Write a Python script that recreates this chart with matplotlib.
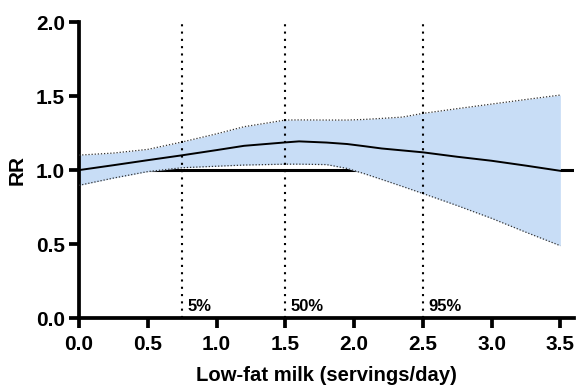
import matplotlib
matplotlib.use("Agg")
from matplotlib import pyplot as plt

plt.rcParams['font.family'] = ['Liberation Sans', 'DejaVu Sans']
plt.rcParams['font.weight'] = 'bold'

# dose-response values
dose = [0.0, 0.25, 0.5, 0.75, 1.0, 1.2, 1.5, 1.6, 1.8, 1.95, 2.07, 2.2, 2.35, 2.5, 2.75, 3.0, 3.25, 3.5]
rr = [1.0, 1.033, 1.067, 1.10, 1.135, 1.164, 1.187, 1.194, 1.186, 1.176, 1.162, 1.146, 1.133, 1.12, 1.09, 1.063, 1.03, 0.995]
rr_upper = [1.101, 1.115, 1.14, 1.19, 1.245, 1.293, 1.338, 1.339, 1.338, 1.338, 1.342, 1.349, 1.358, 1.383, 1.415, 1.446, 1.477, 1.507]
rr_lower = [0.897, 0.946, 0.99, 1.016, 1.026, 1.034, 1.04, 1.04, 1.037, 1.011, 0.977, 0.937, 0.89, 0.842, 0.76, 0.674, 0.58, 0.489]

pct_x = [0.75, 1.5, 2.5]
pct_labels = ['5%', '50%', '95%']

fig = plt.figure(figsize=(5.77, 3.87), dpi=100)
ax = fig.add_axes([0.137, 0.178, 0.858, 0.765])

# reference line RR = 1 (under the band)
ax.plot([0, 3.6], [1, 1], color='black', lw=2.2, zorder=1, solid_capstyle='butt')

ax.fill_between(dose, rr_lower, rr_upper, color='#c8ddf6', lw=0, zorder=2)
ax.plot(dose, rr_upper, color='#333333', lw=0.9, ls=(0, (1, 1.5)), zorder=3)
ax.plot(dose, rr_lower, color='#333333', lw=0.9, ls=(0, (1, 1.5)), zorder=3)
ax.plot(dose, rr, color='black', lw=1.4, zorder=4)

for x, lab in zip(pct_x, pct_labels):
    ax.plot([x, x], [0, 2.0], color='black', lw=1.5, ls=(0, (1, 2.5)), zorder=5)
    ax.text(x + 0.04, 0.05, lab, fontsize=12, fontweight='bold', ha='left', va='baseline')

ax.set_xlim(0, 3.6)
ax.set_ylim(0, 2.0)
ax.set_xticks([0, 0.5, 1.0, 1.5, 2.0, 2.5, 3.0, 3.5])
ax.set_xticklabels(['0.0', '0.5', '1.0', '1.5', '2.0', '2.5', '3.0', '3.5'])
ax.set_yticks([0, 0.5, 1.0, 1.5, 2.0])
ax.set_yticklabels(['0.0', '0.5', '1.0', '1.5', '2.0'])

for s in ['top', 'right']:
    ax.spines[s].set_visible(False)
for s in ['left', 'bottom']:
    ax.spines[s].set_linewidth(2.7)
ax.tick_params(width=2.7, length=7, labelsize=15, pad=3)
ax.tick_params(axis='x', pad=5)
for t in ax.get_xticklabels() + ax.get_yticklabels():
    t.set_fontweight('bold')

ax.set_xlabel('Low-fat milk (servings/day)', fontsize=14.6, fontweight='bold', labelpad=9)
ax.set_ylabel('RR', fontsize=15, fontweight='bold', labelpad=7)

fig.savefig('out.png', dpi=100)
